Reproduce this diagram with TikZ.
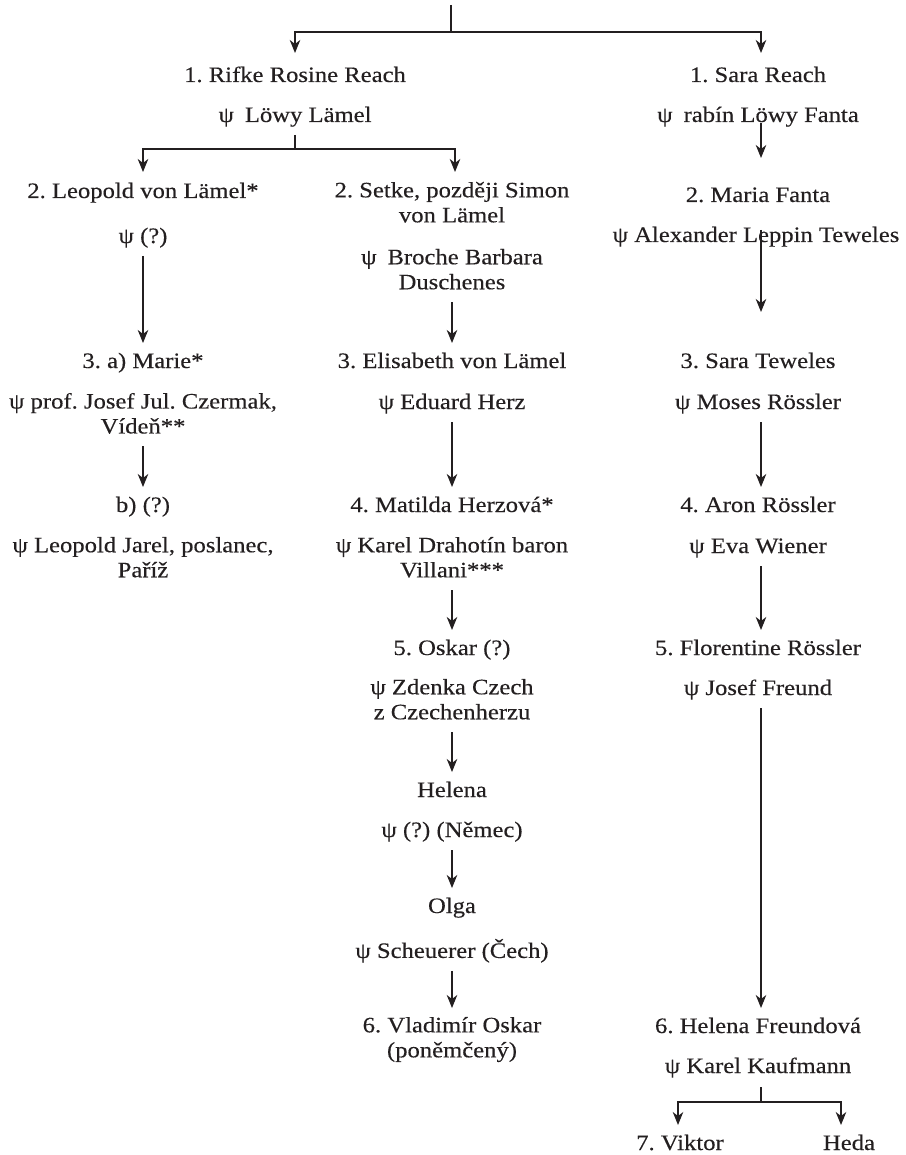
\documentclass[tikz,border=0pt]{standalone}
\usepackage{fontspec}
\setmainfont{Liberation Serif}[FakeStretch=1.12,FakeBold=0.3]
\usetikzlibrary{arrows.meta}
\definecolor{ink}{HTML}{231F20}
\newcommand\mystrut{\rule[-6pt]{0pt}{22pt}}
\begin{document}
\frenchspacing
\begin{tikzpicture}[x=1pt,y=-1pt,
  person/.style={anchor=north, inner sep=0pt, outer sep=0pt, align=center, text=ink,
     font=\fontsize{22}{25}\selectfont\frenchspacing,
     execute at begin node=\mystrut, execute at end node=\mystrut},
  link/.style={draw=ink, line width=1.2pt},
  arr/.style={link, -{Stealth[length=13pt,width=10.5pt,inset=4pt]}},
  kid/.style={arr, shorten <=7pt, shorten >=9pt}]
\useasboundingbox (0,0) rectangle (905,1155);
% generation 1
\node[person] (r1L) at (295,66) {1. Rifke Rosine Reach};
\node[person] (p1L) at (295,106) {ψ\enspace Löwy Lämel};
\node[person] (r1R) at (758,66) {1. Sara Reach};
\node[person] (p1R) at (758,106) {ψ\enspace rabín Löwy Fanta};
% generation 2
\node[person] (r2a) at (143,182) {2. Leopold von Lämel*};
\node[person] (p2a) at (143,227) {ψ (?)};
\node[person] (r2b) at (452,182) {2. Setke, později Simon\\von Lämel};
\node[person] (p2b) at (452,249) {ψ\enspace Broche Barbara\\Duschenes};
\node[person] (r2R) at (758,186) {2. Maria Fanta};
\node[person] (p2R) at (756,226) {ψ Alexander Leppin Teweles};
% generation 3
\node[person] (r3a) at (143,352) {3. a) Marie*};
\node[person] (p3a) at (143,393) {ψ prof. Josef Jul. Czermak,\\Vídeň**};
\node[person] (r3b) at (452,352) {3. Elisabeth von Lämel};
\node[person] (p3b) at (452,393) {ψ Eduard Herz};
\node[person] (r3R) at (758,352) {3. Sara Teweles};
\node[person] (p3R) at (758,393) {ψ Moses Rössler};
% generation 4
\node[person] (r4a) at (143,496) {b) (?)};
\node[person] (p4a) at (143,537) {ψ Leopold Jarel, poslanec,\\Paříž};
\node[person] (r4b) at (452,496) {4. Matilda Herzová*};
\node[person] (p4b) at (452,537) {ψ Karel Drahotín baron\\Villani***};
\node[person] (r4R) at (758,496) {4. Aron Rössler};
\node[person] (p4R) at (758,537) {ψ Eva Wiener};
% generation 5
\node[person] (r5b) at (452,639) {5. Oskar (?)};
\node[person] (p5b) at (452,679) {ψ Zdenka Czech\\z Czechenherzu};
\node[person] (r5R) at (758,639) {5. Florentine Rössler};
\node[person] (p5R) at (758,679) {ψ Josef Freund};
\node[person] (hel) at (452,781) {Helena};
\node[person] (phel) at (452,821) {ψ (?) (Němec)};
\node[person] (olg) at (452,897) {Olga};
\node[person] (polg) at (452,939) {ψ Scheuerer (Čech)};
% generation 6
\node[person] (r6b) at (452,1017) {6. Vladimír Oskar\\(poněmčený)};
\node[person] (r6R) at (758,1017) {6. Helena Freundová};
\node[person] (p6R) at (758,1057) {ψ Karel Kaufmann};
% generation 7
\node[person] (r7a) at (680,1134) {7. Viktor};
\node[person] (r7b) at (849,1134) {Heda};
% top fork
\coordinate (top) at (451,5);
\coordinate (j0) at (451,32);
\draw[link] (top) -- (j0);
\draw[arr] (j0) -| ([yshift=13pt]r1L.north);
\draw[arr] (j0) -| ([xshift=3pt,yshift=13pt]r1R.north);
% left fork
\coordinate (j1) at (295,149);
\draw[link] ([yshift=-7pt]p1L.south) -- (j1);
\draw[arr] (j1) -| ([yshift=10pt]r2a.north);
\draw[arr] (j1) -| ([xshift=3pt,yshift=10pt]r2b.north);
% left column
\draw[kid] (p2a) -- (r3a);
\draw[kid] (p3a) -- (r4a);
% middle column
\draw[kid] (p2b) -- (r3b);
\draw[kid] (p3b) -- (r4b);
\draw[kid] (p4b) -- (r5b);
\draw[kid] (p5b) -- (hel);
\draw[kid] (phel) -- (olg);
\draw[kid] (polg) -- (r6b);
% right column
\draw[arr] ([xshift=3pt,yshift=5pt]p1R.south) -- ([xshift=3pt,yshift=28pt]r2R.north);
\draw[arr] ([xshift=3pt,yshift=18pt]p2R.south -| r3R.north) -- ([xshift=3pt,yshift=40pt]r3R.north);
\draw[kid] ([xshift=3pt]p3R.south) -- ([xshift=3pt]r4R.north);
\draw[kid] ([xshift=3pt]p4R.south) -- ([xshift=3pt]r5R.north);
\draw[kid] ([xshift=3pt]p5R.south) -- ([xshift=3pt]r6R.north);
% bottom fork
\coordinate (j2) at (761,1102);
\draw[link] ([xshift=3pt,yshift=-8pt]p6R.south) -- (j2);
\draw[arr] (j2) -| ([xshift=-2pt,yshift=9pt]r7a.north);
\draw[arr] (j2) -| ([xshift=-8pt,yshift=9pt]r7b.north);
\end{tikzpicture}
\end{document}
